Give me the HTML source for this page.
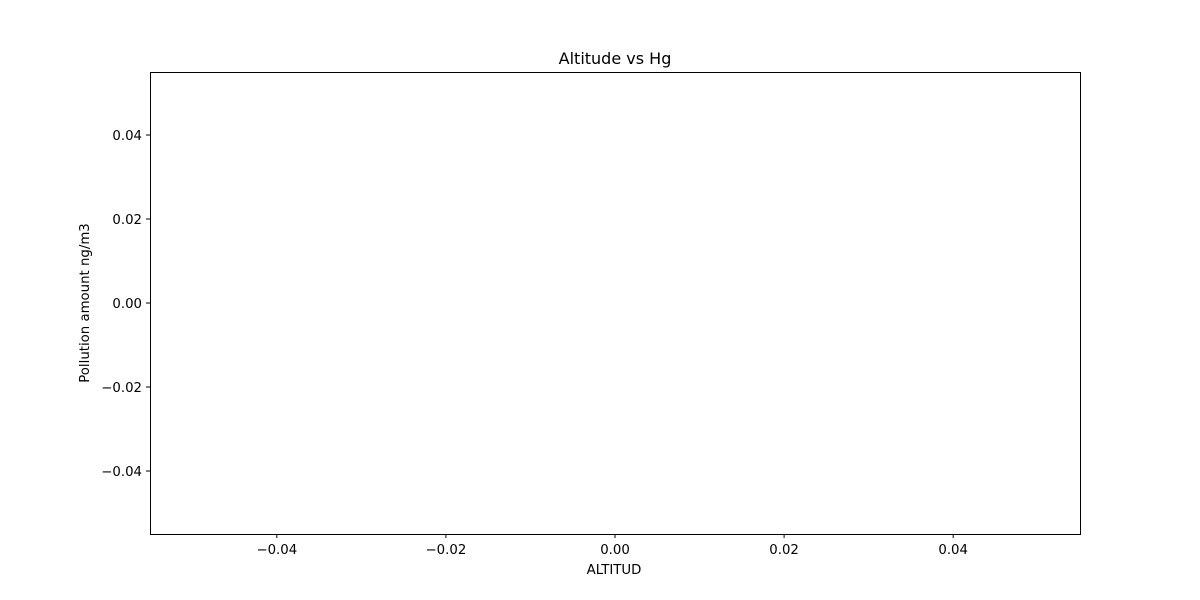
<!DOCTYPE html>
<html>
<head>
<meta charset="utf-8">
<style>
  html,body{margin:0;padding:0;background:#fff;}
  svg{display:block;font-family:"DejaVu Sans","Liberation Sans",sans-serif;}
</style>
</head>
<body>
<svg id="chart" width="1200" height="600" viewBox="0 0 1200 600">
  <rect x="0" y="0" width="1200" height="600" fill="#fff"/>
  <text x="615" y="64" font-size="16" text-anchor="middle" fill="#000">Altitude vs Hg</text>
  <g id="xticks"></g>
  <g id="yticks"></g>
  <g id="marks"></g>
  <rect x="150.5" y="72.5" width="930" height="462" fill="none" stroke="#000" stroke-width="1"/>
  <text x="614" y="574" font-size="13.3" text-anchor="middle" fill="#000">ALTITUD</text>
  <text transform="translate(89,303) rotate(-90)" font-size="13.3" text-anchor="middle" fill="#000">Pollution amount ng/m3</text>
</svg>
<script>
const altitudes = [];
const hgValues = [];
const xTickValues = [-0.04, -0.02, 0, 0.02, 0.04];
const xTickLabels = ["\u22120.04", "\u22120.02", "0.00", "0.02", "0.04"];
const yTickValues = [0.04, 0.02, 0, -0.02, -0.04];
const yTickLabels = ["0.04", "0.02", "0.00", "\u22120.02", "\u22120.04"];

const NS = "http://www.w3.org/2000/svg";
const L = 150, R = 1080, T = 72, B = 534;
const xMin = -0.055, xMax = 0.055, yMin = -0.055, yMax = 0.055;
function sx(v){ return L + (v - xMin) / (xMax - xMin) * (R - L); }
function sy(v){ return B - (v - yMin) / (yMax - yMin) * (B - T); }
function mk(tag, attrs){ const e = document.createElementNS(NS, tag); for (const k in attrs) e.setAttribute(k, attrs[k]); return e; }

const xg = document.getElementById("xticks");
xTickValues.forEach((v, i) => {
  const x = sx(v);
  const line = mk("line", {x1:x, x2:x, y1:B, y2:B+4, stroke:"#000", "stroke-width":1});
  
  
  xg.appendChild(line);
  const t = mk("text", {x:x, y:B+20, "font-size":13.3, "text-anchor":"middle", fill:"#000"});
  t.textContent = xTickLabels[i];
  
  
  xg.appendChild(t);
});
const yg = document.getElementById("yticks");
yTickValues.forEach((v, i) => {
  const y = sy(v);
  const line = mk("line", {x1:L-4, x2:L, y1:y, y2:y, stroke:"#000", "stroke-width":1});
  
  
  yg.appendChild(line);
  const t = mk("text", {x:L-8, y:y+5, "font-size":13.3, "text-anchor":"end", fill:"#000"});
  t.textContent = yTickLabels[i];
  
  
  yg.appendChild(t);
});
const mg = document.getElementById("marks");
altitudes.forEach((a, i) => {
  const c = mk("circle", {cx:sx(a), cy:sy(hgValues[i]), r:3, fill:"#1f77b4"});
  
  
  mg.appendChild(c);
});
</script>
</body>
</html>
